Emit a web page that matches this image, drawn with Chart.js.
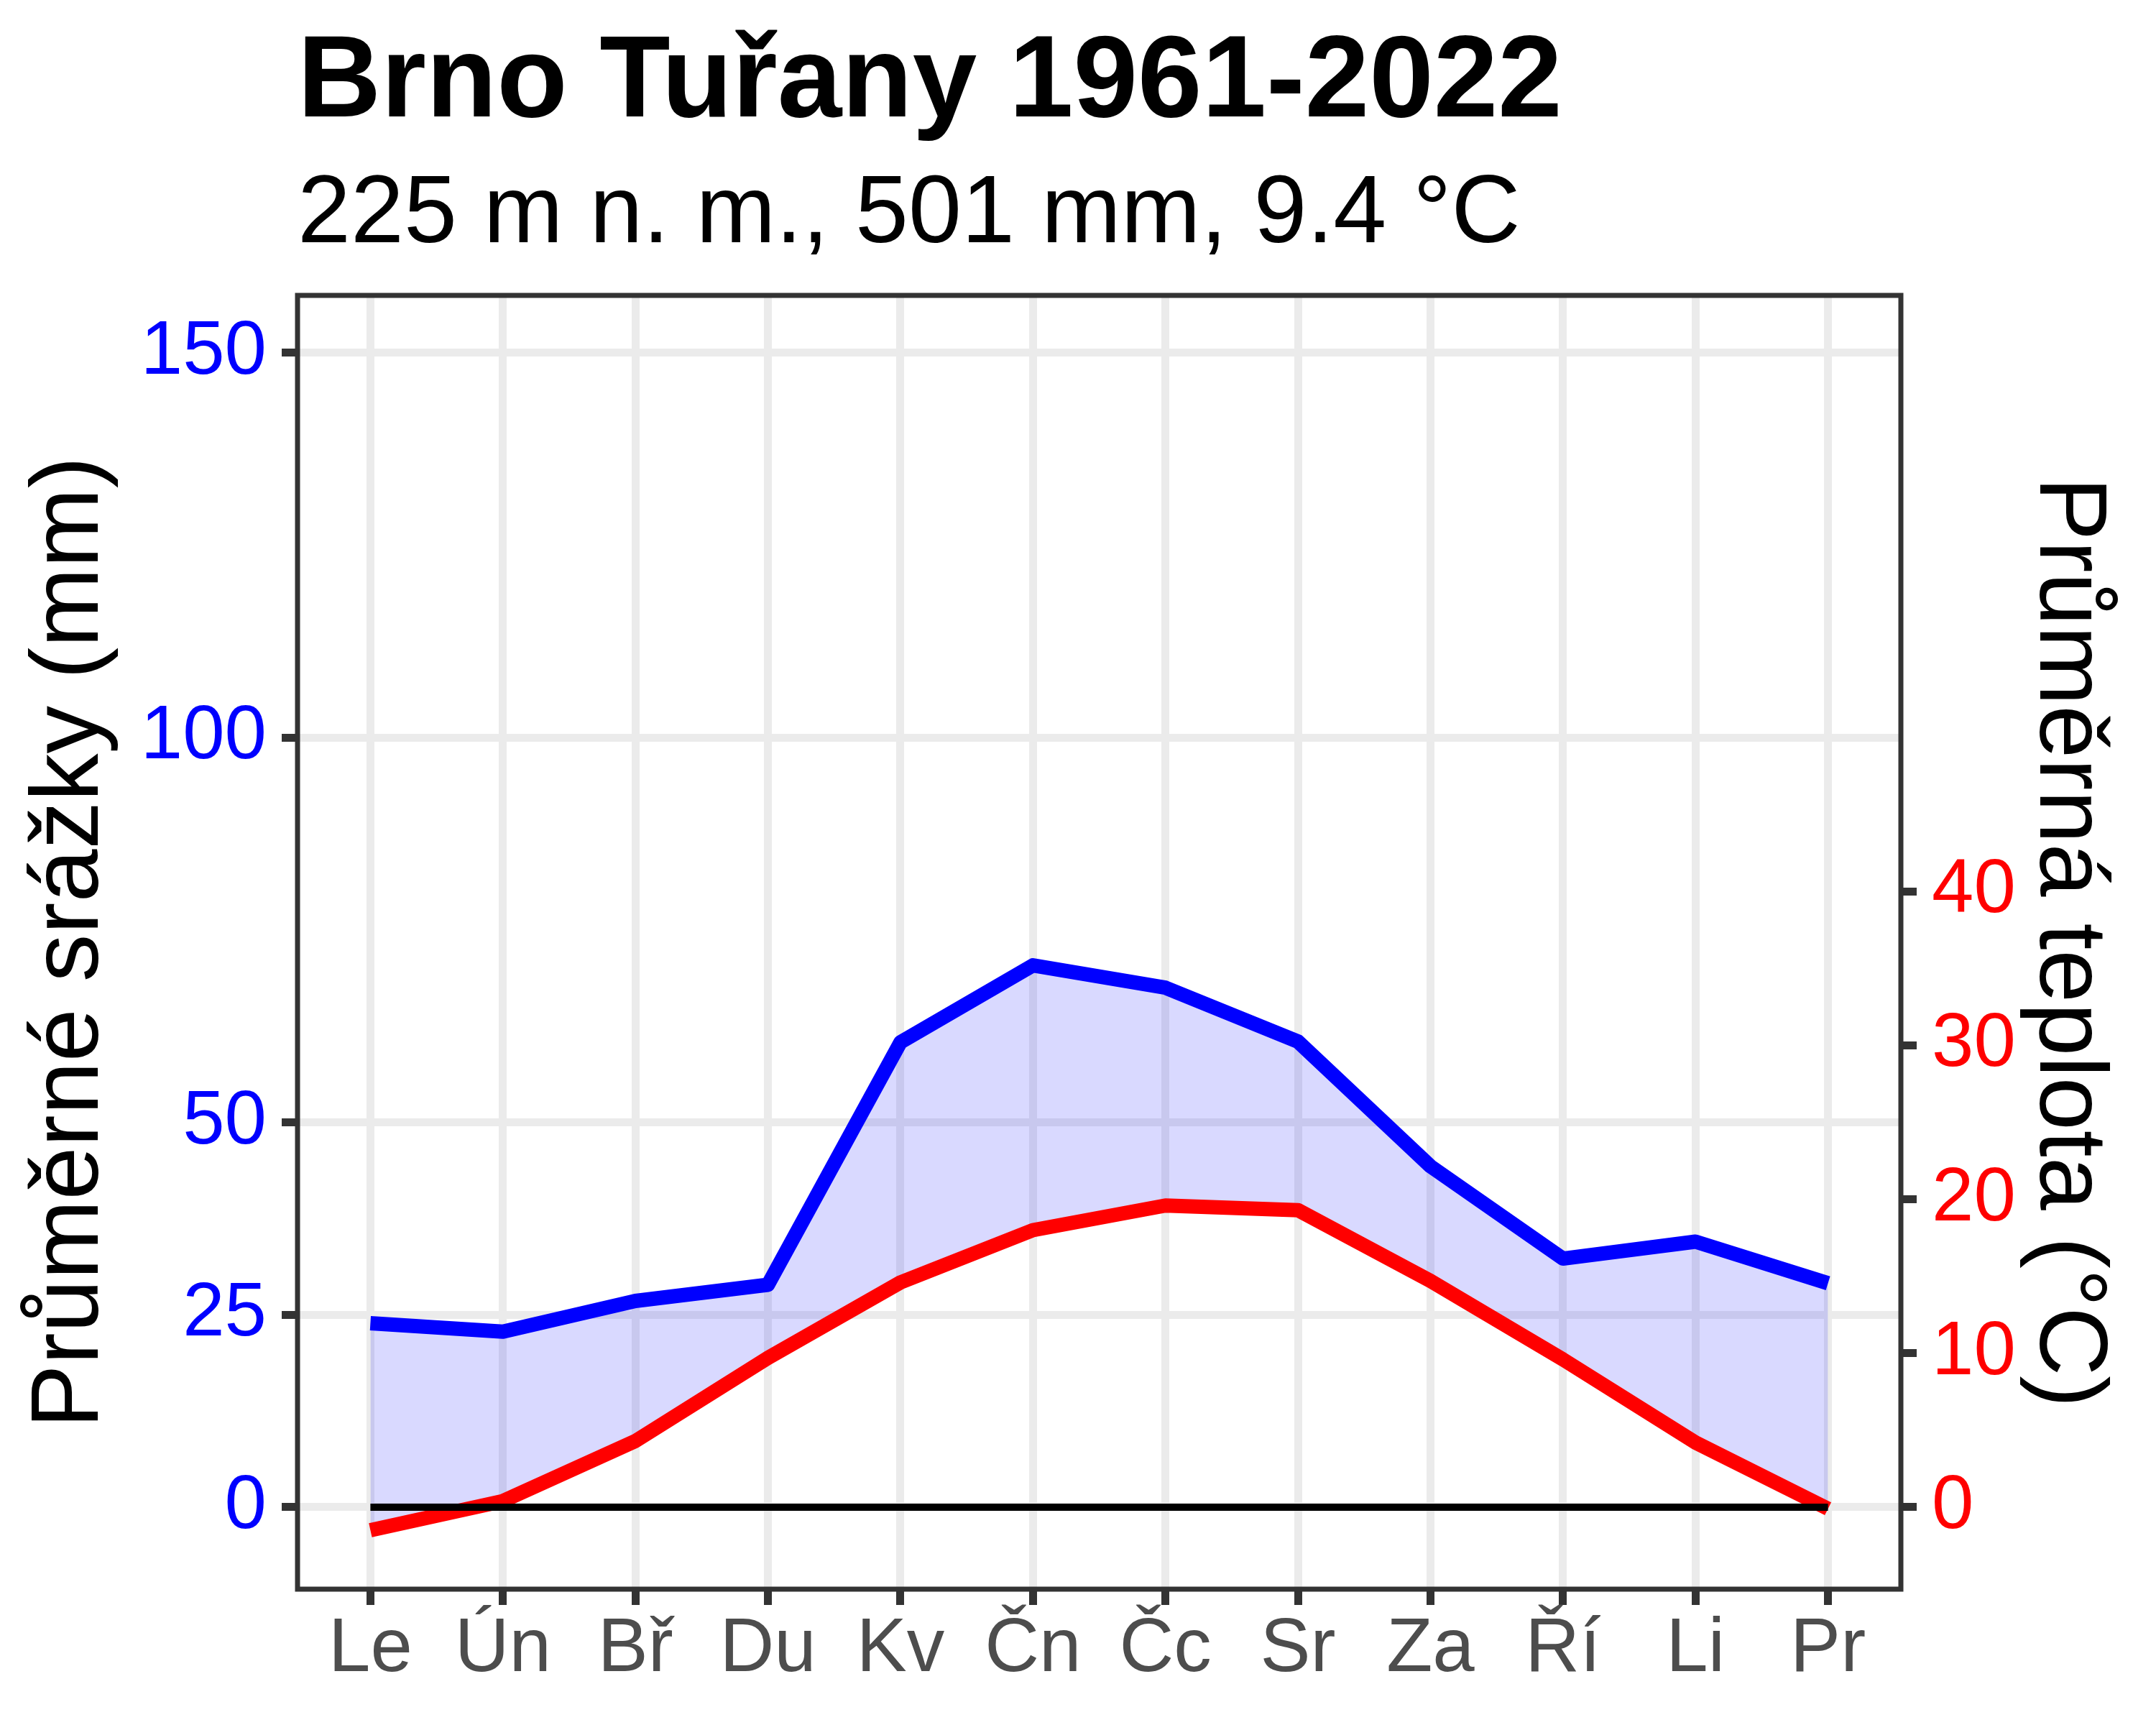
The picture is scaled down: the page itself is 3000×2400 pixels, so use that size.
<!DOCTYPE html>
<html lang="cs">
<head>
<meta charset="UTF-8">
<title>Brno Tuřany 1961-2022</title>
<script src="https://cdn.jsdelivr.net/npm/chart.js"></script>
<style>
  html, body { margin: 0; padding: 0; background: #fff; }
  #obal { width: 3000px; height: 2400px; }
</style>
</head>
<body>
<div id="obal"><canvas id="klimadiagram"></canvas></div>
<script>
  // hodnoty (1961-2022)
  const mesice = ['Le', 'Ún', 'Bř', 'Du', 'Kv', 'Čn', 'Čc', 'Sr', 'Za', 'Ří', 'Li', 'Pr'];
  const poradi = [1, 2, 3, 4, 5, 6, 7, 8, 9, 10, 11, 12];
  const srazky = [23.9, 22.8, 26.8, 28.9, 60.4, 70.4, 67.5, 60.5, 44.3, 32.3, 34.5, 29.1];
  const teplota = [-1.5, 0.4, 4.3, 9.7, 14.6, 18.0, 19.6, 19.3, 14.7, 9.6, 4.2, -0.1];
  const nulovaCara = [0, 0, 0, 0, 0, 0, 0, 0, 0, 0, 0, 0];
  const ticksSrazky = [0, 25, 50, 100, 150];
  const ticksTeplota = [0, 10, 20, 30, 40];

  const pismo = 'Liberation Sans';

  // rámeček kolem panelu
  const ramecek = {
    id: 'ramecek',
    afterDraw(chart) {
      const { ctx, chartArea: a } = chart;
      ctx.save();
      ctx.strokeStyle = '#333333';
      ctx.lineWidth = 7;
      ctx.strokeRect(a.left, a.top, a.right - a.left, a.bottom - a.top);
      ctx.restore();
    }
  };

  const body = (hodnoty) => poradi.map((m, i) => ({ x: m, y: hodnoty[i] }));

  const mrizka = {
    color: '#ebebeb',
    lineWidth: 11,
    tickLength: 22,
    tickColor: '#333333',
    tickWidth: 11
  };

  new Chart(document.getElementById('klimadiagram'), {
    type: 'line',
    data: {
      datasets: [
        {
          label: 'nula',
          data: body(nulovaCara),
          yAxisID: 'y',
          borderColor: '#000000',
          borderWidth: 10,
          pointRadius: 0,
          fill: false,
          order: 0
        },
        {
          label: 'Srážky',
          data: body(srazky),
          yAxisID: 'y',
          borderColor: '#0000ff',
          borderWidth: 20,
          borderJoinStyle: 'round',
          pointRadius: 0,
          backgroundColor: 'rgba(0, 0, 255, 0.15)',
          fill: '+1',
          order: 1
        },
        {
          label: 'Teplota',
          data: body(teplota),
          yAxisID: 'y2',
          borderColor: '#ff0000',
          borderWidth: 20,
          borderJoinStyle: 'round',
          pointRadius: 0,
          fill: false,
          order: 2
        }
      ]
    },
    options: {
      responsive: true,
      maintainAspectRatio: false,
      animation: false,
      layout: { padding: { top: 37, left: 0, right: 0, bottom: 0 } },
      plugins: {
        legend: { display: false },
        tooltip: { enabled: false },
        filler: { drawTime: 'beforeDatasetsDraw' },
        title: {
          display: true,
          text: 'Brno Tuřany 1961-2022',
          align: 'start',
          fullSize: false,
          color: '#000000',
          font: { family: pismo, size: 161, weight: 'bold', lineHeight: 1 },
          padding: { top: 0, bottom: 36 }
        },
        subtitle: {
          display: true,
          text: '225 m n. m., 501 mm, 9.4 °C',
          align: 'start',
          fullSize: false,
          color: '#000000',
          font: { family: pismo, size: 133, weight: 'normal', lineHeight: 1 },
          padding: { top: 0, bottom: 44 }
        }
      },
      scales: {
        x: {
          type: 'linear',
          min: 0.45,
          max: 12.55,
          border: { display: false },
          grid: mrizka,
          afterBuildTicks: (s) => { s.ticks = poradi.map(v => ({ value: v })); },
          afterFit: (s) => { s.height = 189; },
          ticks: {
            autoSkip: false,
            maxRotation: 0,
            padding: 11,
            color: '#4d4d4d',
            font: { family: pismo, size: 105, lineHeight: 1 },
            callback: (v) => mesice[v - 1]
          }
        },
        y: {
          type: 'linear',
          position: 'left',
          min: -10.65,
          max: 157.45,
          border: { display: false },
          grid: mrizka,
          afterBuildTicks: (s) => { s.ticks = ticksSrazky.map(v => ({ value: v })); },
          afterFit: (s) => { s.width = 414; },
          ticks: {
            padding: 21,
            color: '#0000ff',
            font: { family: pismo, size: 105, lineHeight: 1 }
          },
          title: {
            display: true,
            text: 'Průměrné srážky (mm)',
            color: '#000000',
            font: { family: pismo, size: 133, lineHeight: 1 },
            padding: { top: 33, bottom: 0 }
          }
        },
        y2: {
          type: 'linear',
          position: 'right',
          min: -5.325,
          max: 78.725,
          border: { display: false },
          grid: Object.assign({}, mrizka, { drawOnChartArea: false }),
          afterBuildTicks: (s) => { s.ticks = ticksTeplota.map(v => ({ value: v })); },
          afterFit: (s) => { s.width = 355; },
          ticks: {
            padding: 21,
            color: '#ff0000',
            font: { family: pismo, size: 105, lineHeight: 1 }
          },
          title: {
            display: true,
            text: 'Průměrná teplota (°C)',
            color: '#000000',
            font: { family: pismo, size: 133, lineHeight: 1 },
            padding: { top: 58, bottom: 0 }
          }
        }
      }
    },
    plugins: [ramecek]
  });
</script>
</body>
</html>
